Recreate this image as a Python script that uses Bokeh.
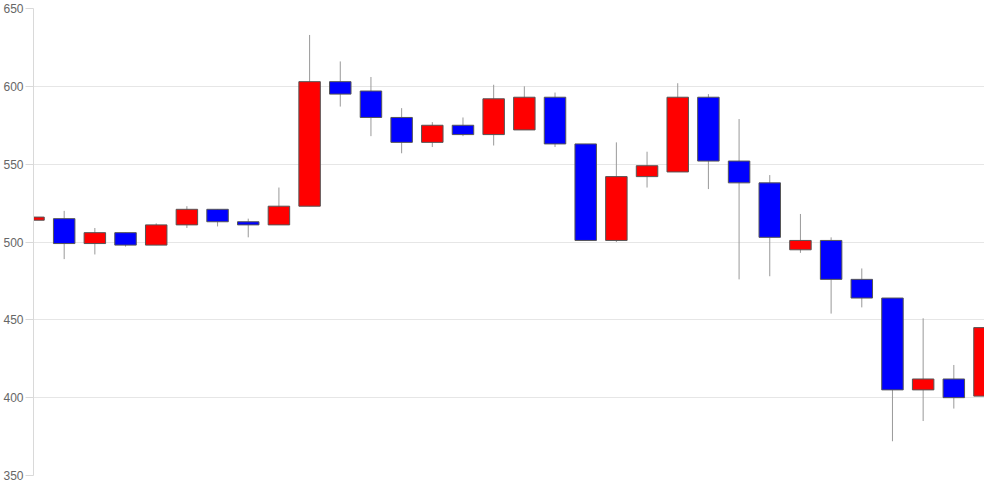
from bokeh.plotting import figure
from bokeh.models import ColumnDataSource, FixedTicker, Range1d
from bokeh.embed import file_html
from bokeh.resources import INLINE

opens  = [514, 515, 499, 506, 498, 511, 521, 513, 511, 523, 603, 597, 580, 564, 575, 569,
          572, 593, 563, 501, 542, 545, 593, 552, 538, 495, 501, 476, 464, 405, 412, 401]
highs  = [517, 520, 509, 506, 512, 523, 521, 515, 535, 633, 616, 606, 586, 577, 580, 601,
          600, 596, 563, 564, 558, 602, 595, 579, 543, 518, 503, 483, 464, 451, 421, 446]
lows   = [514, 489, 492, 497, 498, 509, 510, 503, 511, 523, 587, 568, 557, 561, 568, 562,
          572, 561, 501, 500, 535, 545, 534, 476, 478, 493, 454, 458, 372, 385, 393, 397]
closes = [516, 499, 506, 498, 511, 521, 513, 511, 523, 603, 595, 580, 564, 575, 569, 592,
          593, 563, 501, 542, 549, 593, 552, 538, 503, 501, 476, 464, 405, 412, 400, 445]
y_ticks = [350, 400, 450, 500, 550, 600, 650]

idx = list(range(len(opens)))
colors = ["#ff0000" if c >= o else "#0000ff" for o, c in zip(opens, closes)]
tops = [max(o, c) for o, c in zip(opens, closes)]
bottoms = [min(o, c) for o, c in zip(opens, closes)]

src = ColumnDataSource(dict(x=idx, high=highs, low=lows, top=tops, bottom=bottoms, color=colors))

p = figure(width=984, height=484, output_backend="svg", toolbar_location=None,
           x_range=Range1d(0, len(opens) - 1), y_range=Range1d(350, 650),
           min_border_left=28, min_border_right=0, min_border_top=8, min_border_bottom=9)

p.segment(x0="x", y0="high", x1="x", y1="low", source=src, line_color="#999999", line_width=1)
p.vbar(x="x", width=0.7, top="top", bottom="bottom", source=src,
       fill_color="color", line_color="#555555", line_width=1)

p.xaxis.visible = False
p.xgrid.visible = False
p.outline_line_color = None

ya = p.yaxis[0]
ya.ticker = FixedTicker(ticks=y_ticks)
ya.axis_line_color = "#d9d9d9"
ya.major_tick_line_color = "#d9d9d9"
ya.major_tick_out = 8
ya.major_tick_in = 0
ya.minor_tick_line_color = None
ya.major_label_text_color = "#666666"
ya.major_label_text_font = "Liberation Sans"
ya.major_label_text_font_size = "12px"
ya.major_label_standoff = 2

p.ygrid.ticker = FixedTicker(ticks=y_ticks)
p.ygrid.grid_line_color = "#e6e6e6"
p.ygrid.grid_line_width = 1

p.background_fill_color = "white"
p.border_fill_color = "white"

open("out.html", "w").write(file_html(p, INLINE))
